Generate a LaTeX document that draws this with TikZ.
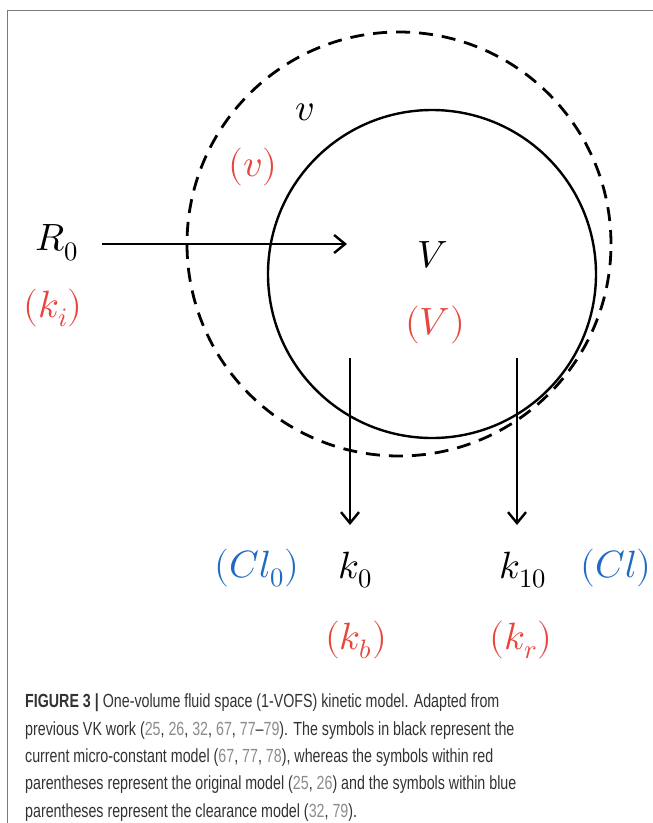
\documentclass[tikz,border=0pt]{standalone}
\usepackage{fontspec}
\usepackage{amsmath}
\usepackage{unicode-math}
\setmathfont{Latin Modern Math}
\newfontfamily\capfont[FakeStretch=0.75]{Liberation Sans}
\usetikzlibrary{arrows.meta,positioning}
\definecolor{symred}{HTML}{E8453C}
\definecolor{symblue}{HTML}{1F6BC2}
\definecolor{capgray}{HTML}{333333}
\definecolor{refgray}{HTML}{8C8C8C}
\definecolor{framegray}{HTML}{7A7A7A}
\newcommand{\refnum}[1]{\textcolor{refgray}{#1}}

\begin{document}
\begin{tikzpicture}[x=1pt,y=-1pt,
        sym/.style={font=\fontsize{38}{38}\selectfont, inner sep=0pt},
        flow/.style={line width=2.4pt, -{Straight Barb[length=11pt,width=18pt,line width=2.4pt]}}]
        \fill[white] (0,0) rectangle (653,823);
        \useasboundingbox (0,0) rectangle (653,823);
        \draw[framegray, line width=1pt] (7,823) -- (7,10) -- (653,10);

        % volumes
        \node[draw, circle, line width=2.8pt, dash pattern=on 14pt off 9pt, minimum size=424pt, inner sep=0pt] (outer) at (399,244) {};
        \node[draw, circle, line width=2.4pt, minimum size=328pt, inner sep=0pt] (inner) at (432,274) {};

        \node[sym] (v) at (305,112) {$v$};
        \node[sym, text=symred] (vred) at (253,167) {$(v)$};
        \node[sym] (V) at (433,255) {$V$};
        \node[sym, text=symred] (Vred) at (435,325) {$(V)$};

        \node[sym] (R0) at (57,243) {$R_0$};
        \node[sym, text=symred] (ki) at (53,308) {$(k_i)$};

        \node[sym] (k0) at (355,570) {$k_0$};
        \node[sym, text=symblue] (Cl0) at (257,568) {$(Cl_0)$};
        \node[sym, text=symred] (kb) at (356,640) {$(k_b)$};
        \node[sym] (k10) at (523,570) {$k_{10}$};
        \node[sym, text=symblue] (Cl) at (616,568) {$(Cl)$};
        \node[sym, text=symred] (kr) at (521,640) {$(k_r)$};

        % flows
        \coordinate (inlet) at (347,244);
        \coordinate (out0) at (350,358);
        \coordinate (out10) at (517,358);
        \draw[flow] (inlet -| R0.east) ++(23,0) -- (inlet);
        \draw[flow] (out0) -- (out0 |- 0,525);
        \draw[flow] (out10) -- (out10 |- 0,525);

        \node[anchor=north west, inner sep=0pt, align=left, text=capgray,
            font=\capfont\fontsize{19}{27.3}\selectfont] (caption) at (25,694) {
            \textbf{FIGURE 3 |} One-volume fluid space (1-VOFS) kinetic model. Adapted from\\
            previous VK work (\refnum{25}, \refnum{26}, \refnum{32}, \refnum{67}, \refnum{77}–\refnum{79}). The symbols in black represent the\\
            current micro-constant model (\refnum{67}, \refnum{77}, \refnum{78}), whereas the symbols within red\\
            parentheses represent the original model (\refnum{25}, \refnum{26}) and the symbols within blue\\
            parentheses represent the clearance model (\refnum{32}, \refnum{79}).
        };
\end{tikzpicture}
\end{document}
